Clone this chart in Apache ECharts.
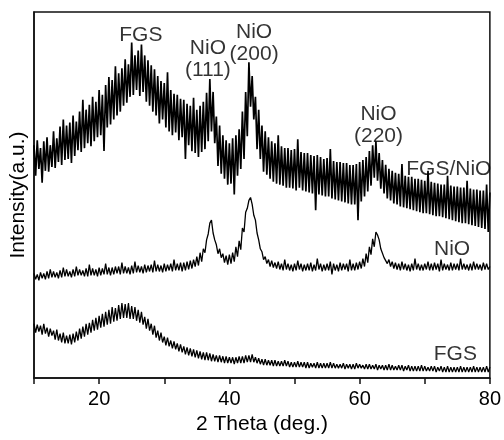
<!DOCTYPE html>
<html>
<head>
<meta charset="utf-8">
<script src="https://cdn.jsdelivr.net/npm/echarts@6/dist/echarts.min.js"></script>
<style>
html,body{margin:0;padding:0;background:#fff;}
#chart{width:504px;height:440px;}
</style>
</head>
<body>
<div id="chart"></div>
<script>
// 2θ sampling: start and step (degrees)
var twoThetaStart = 10;
var twoThetaStep = 0.25;

// FGS/NiO intensities (a.u.), one value per 0.25° from 10° to 80°
var fgsNiO = [
236,205,241,212, 233,198,240,210, 244,209,236,214, 250,213,243,219, 255,216,262,221,
256,222,259,218, 266,225,260,231, 270,229,282,233, 272,238,277,235, 285,240,280,244,
292,246,287,230, 297,254,305,257, 302,262,316,266, 309,270,314,276, 323,279,318,285,
340,287,327,292, 332,286,338,290, 327,280,322,276, 317,270,313,266, 306,258,301,262,
299,254,310,250, 292,246,288,249, 287,241,283,244, 282,222,278,236, 276,230,284,228,
272,224,276,229, 280,232,289,240, 303,250,290,238, 265,215,256,207, 246,202,241,196,
238,197,243,186, 246,205,252,212, 270,222,290,245, 320,275,306,262, 285,232,272,222,
256,209,250,206, 244,202,240,199, 238,197,246,196, 235,195,233,193, 233,193,231,192,
232,190,242,193, 229,190,228,189, 228,188,226,187, 225,170,226,186, 224,185,222,184,
223,184,232,182, 220,181,219,180, 219,179,218,178, 218,177,216,176, 216,176,217,160,
219,179,221,184, 224,189,230,195, 236,203,240,200, 228,192,221,187, 216,182,212,180,
210,177,208,176, 207,174,217,173, 205,172,204,171, 204,170,202,169, 202,168,201,167,
200,167,210,166, 199,165,198,164, 197,164,196,163, 196,162,205,161, 195,160,194,159,
194,158,193,157, 193,157,200,156, 192,155,191,154, 191,153,190,152, 190,151,196,148,
188
];

// NiO intensities (a.u.), one value per 0.25° from 10° to 80°
var nio = [
106,100,105,99, 107,101,106,100, 108,101,110,102, 108,102,107,101, 109,102,112,103,
110,103,108,102, 110,103,113,104, 110,104,109,103, 111,103,115,104, 111,104,110,103,
112,104,111,105, 116,105,112,104, 112,105,113,106, 113,105,117,106, 113,106,112,105,
114,106,118,107, 114,107,113,106, 115,107,114,108, 115,107,119,108, 115,108,114,107,
116,108,115,109, 116,108,120,109, 116,109,117,108, 117,109,118,110, 119,111,120,113,
123,114,127,118, 131,127,140,146, 157,160,147,140, 135,126,131,122, 126,117,124,115,
125,116,127,118, 133,123,139,130, 152,148,168,172, 180,183,176,165, 160,147,140,131,
128,120,123,116, 120,113,119,112, 117,111,118,110, 116,109,120,110, 116,109,115,108,
116,109,119,110, 116,108,115,109, 116,109,117,108, 115,109,121,110, 116,108,115,109,
116,109,118,105, 116,109,115,108, 117,109,116,110, 116,108,120,109, 116,109,117,110,
118,111,121,113, 126,117,133,125, 141,133,148,145, 140,131,129,122, 123,116,120,113,
118,111,117,110, 116,109,118,110, 116,109,115,108, 116,109,121,110, 116,109,115,109,
116,110,118,109, 116,109,117,110, 116,108,120,109, 116,110,115,109, 117,109,116,110,
116,109,121,110, 116,110,115,109, 116,109,118,110, 116,110,115,109, 117,110,116,110,
113
];

// FGS intensities (a.u.), one value per 0.25° from 10° to 80°
var fgs = [
55,46,54,47, 53,44,55,45, 51,42,50,43, 48,39,49,38, 45,36,46,35,
43,35,44,34, 45,36,47,38, 50,40,52,42, 55,44,56,46, 59,48,61,49,
63,51,65,52, 67,54,69,55, 72,57,71,58, 74,60,76,61, 75,61,76,60,
73,60,72,58, 69,56,67,54, 62,50,60,48, 55,44,53,41, 48,38,46,36,
42,33,41,32, 38,30,37,29, 35,27,34,26, 32,24,31,23, 30,22,29,21,
28,20,27,19, 26,18,26,18, 25,17,24,17, 23,16,23,16, 22,15,22,15,
21,15,21,14, 21,15,22,15, 22,15,23,16, 23,16,24,16, 21,15,20,14,
19,13,19,13, 18,13,18,12, 18,12,17,12, 17,12,18,12, 17,11,16,11,
16,11,17,11, 16,11,16,10, 16,10,15,11, 15,10,16,10, 15,10,15,10,
15,10,16,10, 15,10,14,10, 14,10,15,9, 14,10,14,9, 14,9,15,10,
14,10,13,9, 14,9,14,9, 13,9,14,8, 13,9,13,8, 13,8,14,8,
13,8,12,8, 13,8,13,7, 12,8,13,7, 12,7,12,7, 12,7,13,7,
12,7,11,7, 12,7,12,6, 11,7,12,6, 11,6,12,6, 11,6,11,6,
11,6,12,6, 11,6,11,6, 11,6,12,6, 11,6,11,6, 11,6,12,6,
11
];

// Annotations: text and anchor (2θ, intensity)
var annoText = ['FGS', 'NiO\n(111)', 'NiO\n(200)', 'NiO\n(220)', 'FGS/NiO', 'NiO', 'FGS'];
var annoX =    [26.4, 36.7, 43.8, 62.9, 73.7, 74.2, 74.7];
var annoY =    [347, 323, 339, 256, 212, 131, 24];

// Axis settings
var xMin = 10, xMax = 80, xTickStep = 10, xLabelStep = 20;
var yMin = 0, yMax = 371;

function toPairs(arr) {
  var out = [];
  for (var i = 0; i < arr.length; i++) out.push([twoThetaStart + i * twoThetaStep, arr[i]]);
  return out;
}
var annoData = [];
for (var k = 0; k < annoText.length; k++) annoData.push([annoX[k], annoY[k], annoText[k]]);

var FONT = "'Liberation Sans', Arial, sans-serif";
var chart = echarts.init(document.getElementById('chart'), null, {renderer: 'canvas'});
chart.setOption({
  animation: false,
  backgroundColor: '#fff',
  grid: {left: 34, right: 12, top: 12, bottom: 56, show: true, borderColor: '#111', borderWidth: 1.5},
  xAxis: {
    type: 'value', min: xMin, max: xMax, interval: xTickStep,
    name: '2 Theta (deg.)', nameLocation: 'middle', nameGap: 36,
    nameTextStyle: {fontFamily: FONT, fontSize: 21, color: '#000'},
    axisLine: {show: true, lineStyle: {color: '#111', width: 1.5}},
    axisTick: {show: true, inside: false, length: 6, lineStyle: {color: '#111', width: 1.5}},
    axisLabel: {fontFamily: FONT, fontSize: 20, color: '#000', margin: 11,
      formatter: function (v) { return (v % xLabelStep === 0) ? String(v) : ''; }},
    splitLine: {show: false}
  },
  yAxis: {
    type: 'value', min: yMin, max: yMax,
    name: 'Intensity(a.u.)', nameLocation: 'middle', nameGap: 5,
    nameTextStyle: {fontFamily: FONT, fontSize: 21, color: '#000'},
    axisLine: {show: true, lineStyle: {color: '#111', width: 1.5}},
    axisTick: {show: false}, axisLabel: {show: false}, splitLine: {show: false}
  },
  series: [
    {type: 'line', name: 'FGS/NiO', data: toPairs(fgsNiO), showSymbol: false, symbol: 'none',
      lineStyle: {color: '#000', width: 1.7, join: 'miter'}, z: 2},
    {type: 'line', name: 'NiO', data: toPairs(nio), showSymbol: false, symbol: 'none',
      lineStyle: {color: '#000', width: 1.3}, z: 2},
    {type: 'line', name: 'FGS', data: toPairs(fgs), showSymbol: false, symbol: 'none',
      lineStyle: {color: '#000', width: 1.3}, z: 2},
    {type: 'scatter', name: 'labels', data: annoData, symbolSize: 0, z: 5, silent: true,
      itemStyle: {color: '#000'},
      label: {show: true, position: 'inside', fontFamily: FONT, fontSize: 21, color: '#000', lineHeight: 22,
        textBorderWidth: 0, textBorderColor: 'transparent',
        formatter: function (p) { return p.data[2]; }}}
  ]
});
</script>
</body>
</html>
